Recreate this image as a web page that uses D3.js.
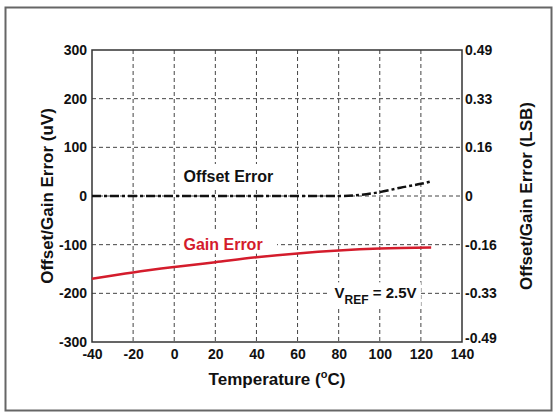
<!DOCTYPE html>
<html><head><meta charset="utf-8">
<script src="https://cdn.jsdelivr.net/npm/d3@7"></script>
<style>body{margin:0;background:#fff}svg{display:block}text{font-family:"Liberation Sans",Arial,sans-serif;font-weight:bold}</style>
</head><body>
<script>
const temps = [-40,-20,0,20,40,60,80,90,100,110,120,125];
const offsetError = [0,0,0,0,0,0,0,2,8,17,25,30];
const gainTemps = [-40,-20,0,20,40,60,80,100,125];
const gainError = [-170,-157,-146,-136,-126,-118,-112,-108,-106];
const xTicks = [-40,-20,0,20,40,60,80,100,120,140];
const yTicks = [300,200,100,0,-100,-200,-300];
const yRightLabels = ["0.49","0.33","0.16","0","-0.16","-0.33","-0.49"];

const W=554,H=412;
const m={l:92,r:462,t:50,b:342};
const svg=d3.select("body").append("svg").attr("width",W).attr("height",H);
svg.append("rect").attr("x",5.5).attr("y",7.5).attr("width",546).attr("height",403).attr("fill","#fff").attr("stroke","#666").attr("stroke-width",2);

const x=d3.scaleLinear().domain([-40,140]).range([m.l,m.r]);
const y=d3.scaleLinear().domain([-300,300]).range([m.b,m.t]);

const g=svg.append("g");
g.selectAll(".vg").data(xTicks.slice(1,-1)).join("line")
 .attr("x1",d=>x(d)).attr("x2",d=>x(d)).attr("y1",m.t).attr("y2",m.b)
 .attr("stroke","#444").attr("stroke-width",1).attr("stroke-dasharray","4,3");
g.selectAll(".hg").data(yTicks.slice(1,-1)).join("line")
 .attr("x1",m.l).attr("x2",m.r).attr("y1",d=>y(d)).attr("y2",d=>y(d))
 .attr("stroke","#444").attr("stroke-width",1).attr("stroke-dasharray","4,3");

function labelBox(x0,y0,w,h){g.append("rect").attr("x",x0).attr("y",y0).attr("width",w).attr("height",h).attr("fill","#fff");}
labelBox(x(4),y(0)-32,x(54)-x(4),24);
labelBox(x(4),y(-100)-13,x(50)-x(4),22);
labelBox(x(75),y(-200)-11,x(120)-x(75),25);

const fmt=d=>String(d);
const ax=svg.append("g").attr("transform",`translate(0,${m.b})`)
 .call(d3.axisBottom(x).tickValues(xTicks).tickSize(0).tickPadding(7).tickFormat(fmt));
const ayl=svg.append("g").attr("transform",`translate(${m.l},0)`)
 .call(d3.axisLeft(y).tickValues(yTicks).tickSize(0).tickPadding(5).tickFormat(fmt));
const ayr=svg.append("g").attr("transform",`translate(${m.r},0)`)
 .call(d3.axisRight(y).tickValues(yTicks).tickSize(0).tickPadding(3).tickFormat((d,i)=>yRightLabels[i]));
[ax,ayl,ayr].forEach(a=>{a.select(".domain").remove();a.selectAll("text").attr("font-size",14).attr("fill","#111").attr("font-family","Liberation Sans, Arial, sans-serif").attr("font-weight","bold");});
ax.selectAll("text").attr("dy","0.71em");
ayr.selectAll("text").filter(d=>d===-300).attr("dy","0.05em");

svg.append("rect").attr("x",m.l).attr("y",m.t).attr("width",m.r-m.l).attr("height",m.b-m.t)
 .attr("fill","none").attr("stroke","#333").attr("stroke-width",1.5);

const line=d3.line().curve(d3.curveMonotoneX);
svg.append("path").attr("d",line(gainTemps.map((t,i)=>[x(t),y(gainError[i])])))
 .attr("fill","none").attr("stroke","#d41c2c").attr("stroke-width",2.5);
svg.append("path").attr("d",line(temps.map((t,i)=>[x(t),y(offsetError[i])])))
 .attr("fill","none").attr("stroke","#111").attr("stroke-width",2.5).attr("stroke-dasharray","9,3,3,3");

svg.append("text").attr("x",x(4.5)).attr("y",y(0)-14).attr("font-size",16).attr("fill","#111").text("Offset Error");
svg.append("text").attr("x",x(4.5)).attr("y",y(-100)+5).attr("font-size",16).attr("fill","#d41c2c").text("Gain Error");
const vr=svg.append("text").attr("x",x(78)).attr("y",y(-200)+5).attr("font-size",15).attr("fill","#111");
vr.append("tspan").text("V");
vr.append("tspan").attr("font-size",12).attr("dy",6).text("REF");
vr.append("tspan").attr("dy",-6).text(" = 2.5V");

const xt=svg.append("text").attr("x",(m.l+m.r)/2).attr("y",385).attr("text-anchor","middle").attr("font-size",17).attr("fill","#111");
xt.append("tspan").text("Temperature (");
xt.append("tspan").attr("font-size",11).attr("dy",-7).text("o");
xt.append("tspan").attr("dy",7).text("C)");

svg.append("text").attr("transform",`translate(53,${(m.t+m.b)/2}) rotate(-90)`).attr("text-anchor","middle").attr("font-size",17).attr("fill","#111").text("Offset/Gain Error (uV)");
svg.append("text").attr("transform",`translate(532,${(m.t+m.b)/2}) rotate(-90)`).attr("text-anchor","middle").attr("font-size",17).attr("fill","#111").text("Offset/Gain Error (LSB)");
</script>
</body></html>
